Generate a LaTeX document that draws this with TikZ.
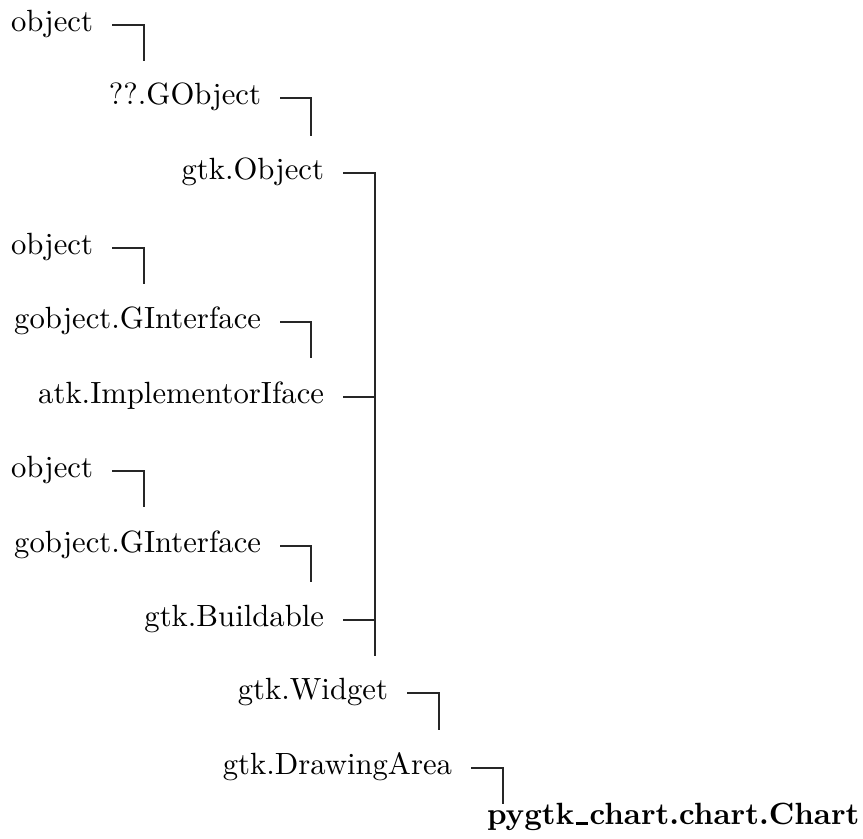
\documentclass[tikz,border=0pt]{standalone}
\newcommand{\uscore}{\kern0.4pt\rule[-0.3pt]{4.2pt}{0.8pt}\kern0.4pt}
\begin{document}
\begin{tikzpicture}[x=0.3257pt,y=-0.3257pt,
  cls/.style={inner sep=0pt,outer sep=0pt,anchor=mid east,font=\fontsize{10}{12}\selectfont},
  leaf/.style={inner sep=0pt,outer sep=0pt,anchor=base west,font=\fontsize{10}{12}\selectfont\bfseries},
  link/.style={line width=0.4pt,draw=black!85}]
\useasboundingbox (0,0) rectangle (863,839);
% nodes
\node[cls] (o1) at (93,25) {object};
\node[cls] (g1) at (261,98) {??.GObject};
\node[cls] (go) at (324,173) {gtk.Object};
\node[cls] (o2) at (93,248) {object};
\node[cls] (gi2) at (261,322) {gobject.GInterface};
\node[cls] (atk) at (324,397) {atk.ImplementorIface};
\node[cls] (o3) at (93,471) {object};
\node[cls] (gi3) at (261,546) {gobject.GInterface};
\node[cls] (bu) at (324,620) {gtk.Buildable};
\node[cls] (wi) at (388,693) {gtk.Widget};
\node[cls] (da) at (452,768) {gtk.DrawingArea};
\node[leaf] (ch) at (487,824) {pygtk\uscore chart.chart.Chart};
% stub ends
\coordinate (s1) at (144,61);
\coordinate (s2) at (311,136);
\coordinate (tr) at (375,656);
\coordinate (s4) at (144,284);
\coordinate (s5) at (311,358);
\coordinate (j6) at (375,397);
\coordinate (s7) at (144,507);
\coordinate (s8) at (311,582);
\coordinate (j9) at (375,620);
\coordinate (s10) at (439,730);
\coordinate (s11) at (503,804);
% connectors
\draw[link] ([xshift=6.2pt]o1.mid east) -| (s1);
\draw[link] ([xshift=6.2pt]g1.mid east) -| (s2);
\draw[link] ([xshift=6.2pt]go.mid east) -| (tr);
\draw[link] ([xshift=6.2pt]o2.mid east) -| (s4);
\draw[link] ([xshift=6.2pt]gi2.mid east) -| (s5);
\draw[link] ([xshift=6.2pt]atk.mid east) -- (j6);
\draw[link] ([xshift=6.2pt]o3.mid east) -| (s7);
\draw[link] ([xshift=6.2pt]gi3.mid east) -| (s8);
\draw[link] ([xshift=6.2pt]bu.mid east) -- (j9);
\draw[link] ([xshift=6.2pt]wi.mid east) -| (s10);
\draw[link] ([xshift=6.2pt]da.mid east) -| (s11);
\end{tikzpicture}
\end{document}
